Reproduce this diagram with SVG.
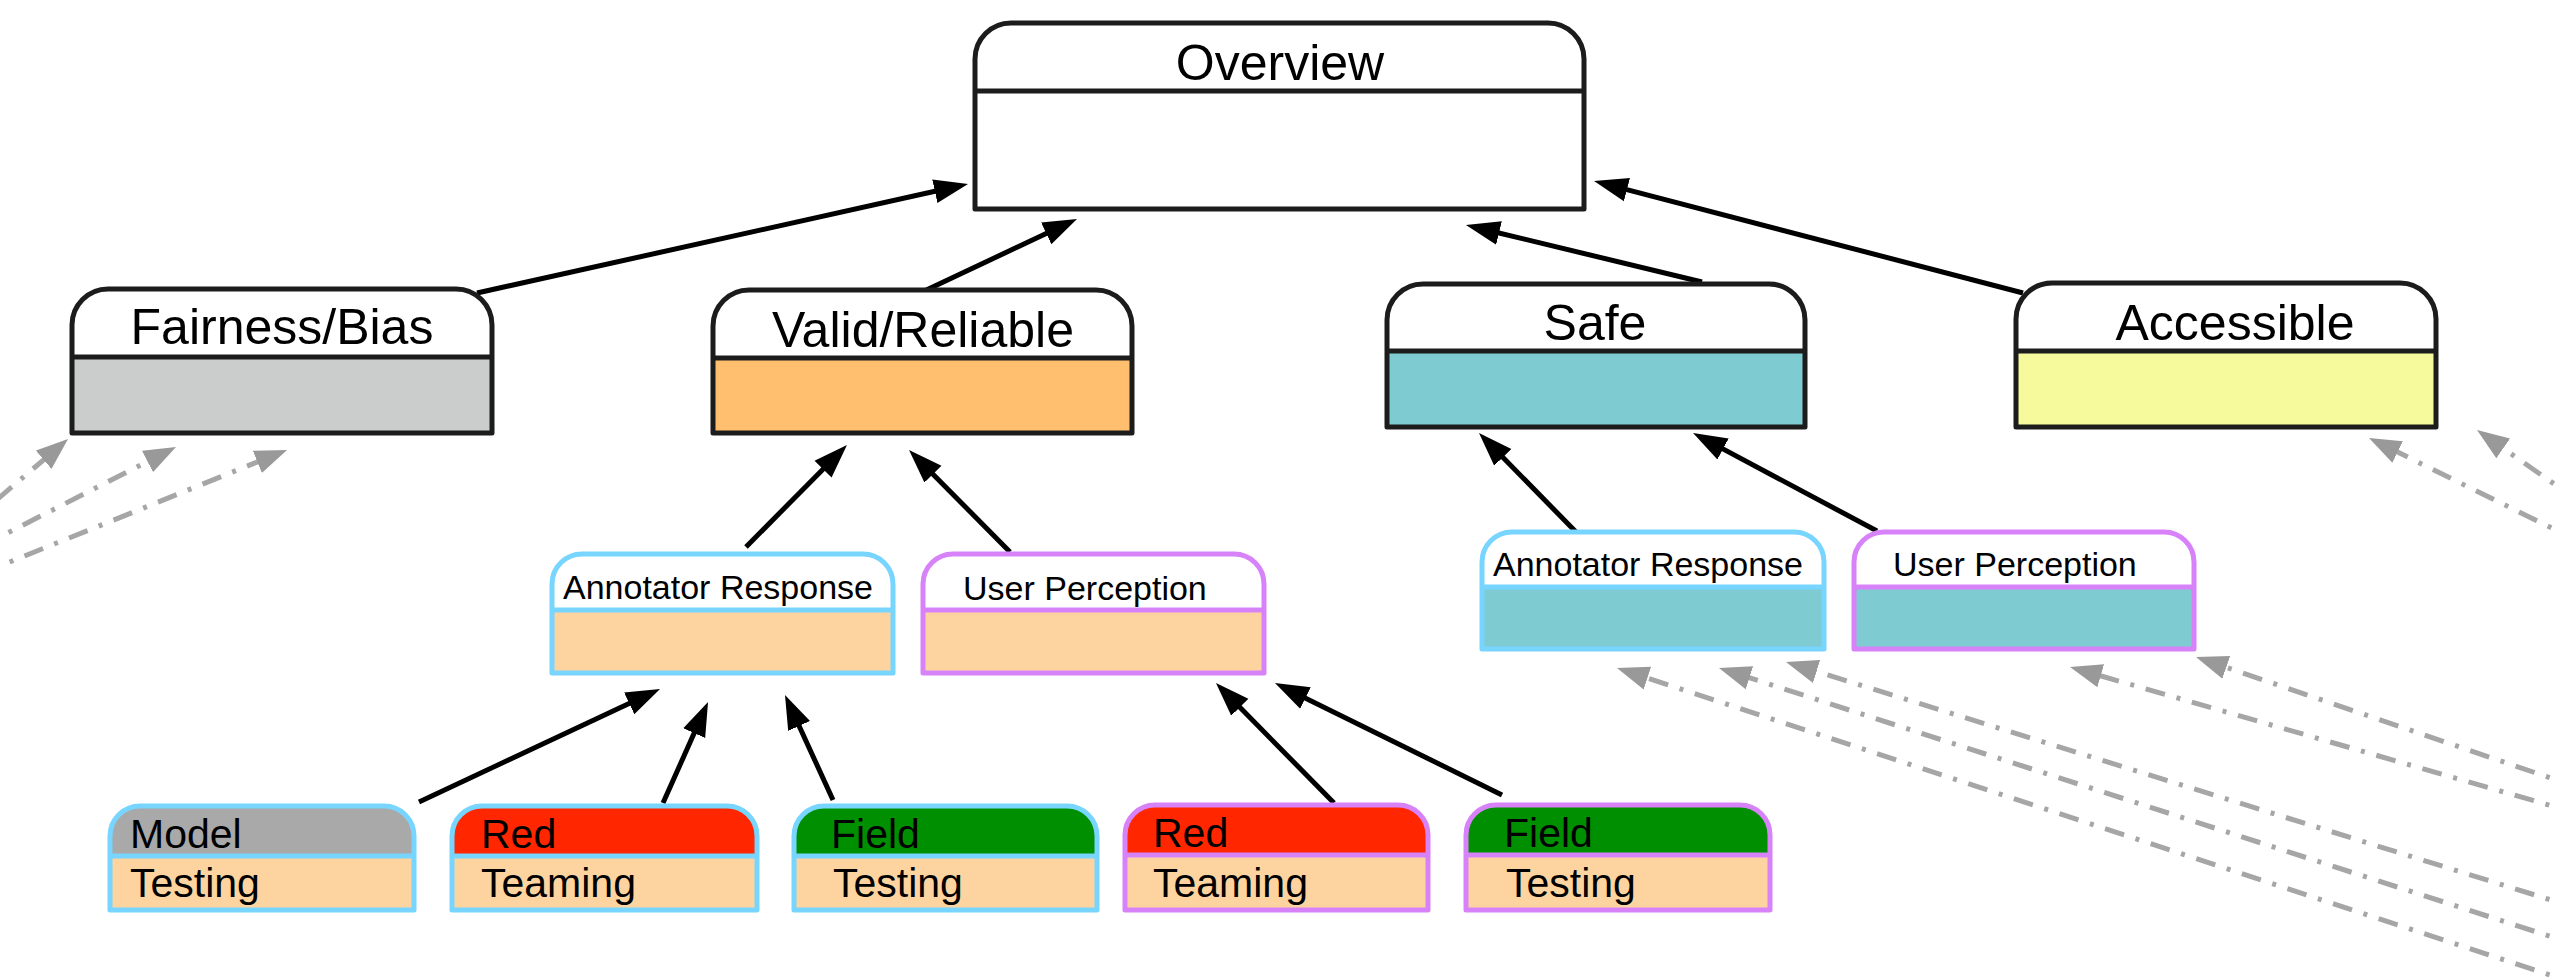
<svg xmlns="http://www.w3.org/2000/svg" width="2560" height="980" viewBox="0 0 2560 980">
<style>
text{font-family:"Liberation Sans",Arial,Helvetica,sans-serif;fill:#000}
.big{font-size:50px;text-anchor:middle}
.mid{font-size:34px}
.sm{font-size:41px}
.ol{fill:none;stroke:#1c1c1c;stroke-width:5;stroke-linejoin:round}
.dv{stroke:#1c1c1c;stroke-width:5}
.olb{fill:none;stroke:#78D5FF;stroke-width:5;stroke-linejoin:round}
.dvb{stroke:#78D5FF;stroke-width:5}
.olp{fill:none;stroke:#D882FA;stroke-width:5;stroke-linejoin:round}
.dvp{stroke:#D882FA;stroke-width:5}
.peach{fill:#FDD49F}
.con{fill:none;stroke:#000;stroke-width:5}
.gcon{fill:none;stroke:#A6A6A6;stroke-width:5;stroke-dasharray:20 12 4 12}
</style>
<defs>
<marker id="ah" markerUnits="userSpaceOnUse" markerWidth="36" markerHeight="26" refX="14" refY="12" orient="auto" viewBox="0 0 36 24">
<path d="M0,0 L34,12 L0,24 z" fill="#000"/>
</marker>
<marker id="gh" markerUnits="userSpaceOnUse" markerWidth="36" markerHeight="26" refX="12" refY="12" orient="auto" viewBox="0 0 36 24">
<path d="M0,0 L32,12 L0,24 z" fill="#999"/>
</marker>
</defs>

<g id="connectors">
<path class="con" marker-end="url(#ah)" d="M477,293 L948.5,188.3"/>
<path class="con" marker-end="url(#ah)" d="M920,293 L1058.9,227.5"/>
<path class="con" marker-end="url(#ah)" d="M1702,282 L1485.4,229.7"/>
<path class="con" marker-end="url(#ah)" d="M2023,293 L1613.4,186.1"/>
<path class="con" marker-end="url(#ah)" d="M746,547 L832.9,459.2"/>
<path class="con" marker-end="url(#ah)" d="M1010,552 L923.1,464.2"/>
<path class="con" marker-end="url(#ah)" d="M1576,532 L1493,447.3"/>
<path class="con" marker-end="url(#ah)" d="M1877,531 L1710.7,442.4"/>
<path class="con" marker-end="url(#ah)" d="M419,802 L641.9,697.5"/>
<path class="con" marker-end="url(#ah)" d="M663,803 L699.9,720.3"/>
<path class="con" marker-end="url(#ah)" d="M833,800 L793.3,713.2"/>
<path class="con" marker-end="url(#ah)" d="M1334,803 L1230,697.3"/>
<path class="con" marker-end="url(#ah)" d="M1502,795 L1292.9,691.9"/>
<path class="gcon" marker-end="url(#gh)" d="M-40,531 L52.8,452"/>
<path class="gcon" marker-end="url(#gh)" d="M-20,547 L158.2,456.1"/>
<path class="gcon" marker-end="url(#gh)" d="M-20,574 L268.5,457.5"/>
<path class="gcon" marker-end="url(#gh)" d="M2580,542 L2386.9,446.8"/>
<path class="gcon" marker-end="url(#gh)" d="M2580,502 L2493.4,441.5"/>
<path class="gcon" marker-end="url(#gh)" d="M2580,985 L1636,674.3"/>
<path class="gcon" marker-end="url(#gh)" d="M2580,946 L1738,674.1"/>
<path class="gcon" marker-end="url(#gh)" d="M2580,909 L1805.1,667.9"/>
<path class="gcon" marker-end="url(#gh)" d="M2580,814 L2089.2,672.5"/>
<path class="gcon" marker-end="url(#gh)" d="M2580,788 L2214.9,663.5"/>
</g>

<g id="overview">
<path d="M975,209 L975,59 A36,36 0 0 1 1011,23 L1548,23 A36,36 0 0 1 1584,59 L1584,209 Z" fill="#fff"/>
<path class="ol" d="M975,209 L975,59 A36,36 0 0 1 1011,23 L1548,23 A36,36 0 0 1 1584,59 L1584,209 Z"/>
<line class="dv" x1="975" y1="91" x2="1584" y2="91"/>
<text class="big" x="1280" y="80">Overview</text>
</g>

<g id="fairness">
<path d="M72,433 L72,325 A36,36 0 0 1 108,289 L456,289 A36,36 0 0 1 492,325 L492,433 Z" fill="#fff"/>
<rect x="72" y="357" width="420" height="76" fill="#CBCDCC"/>
<path class="ol" d="M72,433 L72,325 A36,36 0 0 1 108,289 L456,289 A36,36 0 0 1 492,325 L492,433 Z"/>
<line class="dv" x1="72" y1="357" x2="492" y2="357"/>
<text class="big" x="282" y="344">Fairness/Bias</text>
</g>

<g id="valid">
<path d="M713,433 L713,326 A36,36 0 0 1 749,290 L1096,290 A36,36 0 0 1 1132,326 L1132,433 Z" fill="#fff"/>
<rect x="713" y="358" width="419" height="75" fill="#FFBF6F"/>
<path class="ol" d="M713,433 L713,326 A36,36 0 0 1 749,290 L1096,290 A36,36 0 0 1 1132,326 L1132,433 Z"/>
<line class="dv" x1="713" y1="358" x2="1132" y2="358"/>
<text class="big" x="923" y="347">Valid/Reliable</text>
</g>

<g id="safe">
<path d="M1387,427 L1387,320 A36,36 0 0 1 1423,284 L1769,284 A36,36 0 0 1 1805,320 L1805,427 Z" fill="#fff"/>
<rect x="1387" y="351" width="418" height="76" fill="#7FCBD2"/>
<path class="ol" d="M1387,427 L1387,320 A36,36 0 0 1 1423,284 L1769,284 A36,36 0 0 1 1805,320 L1805,427 Z"/>
<line class="dv" x1="1387" y1="351" x2="1805" y2="351"/>
<text class="big" x="1595" y="340">Safe</text>
</g>

<g id="accessible">
<path d="M2016,427 L2016,319 A36,36 0 0 1 2052,283 L2400,283 A36,36 0 0 1 2436,319 L2436,427 Z" fill="#fff"/>
<rect x="2016" y="351" width="420" height="76" fill="#F6FA9D"/>
<path class="ol" d="M2016,427 L2016,319 A36,36 0 0 1 2052,283 L2400,283 A36,36 0 0 1 2436,319 L2436,427 Z"/>
<line class="dv" x1="2016" y1="351" x2="2436" y2="351"/>
<text class="big" x="2235" y="340">Accessible</text>
</g>

<g id="annotator-response-1">
<path d="M552,673 L552,584 A30,30 0 0 1 582,554 L863,554 A30,30 0 0 1 893,584 L893,673 Z" fill="#fff"/>
<rect class="peach" x="552" y="610" width="341" height="63"/>
<path class="olb" d="M552,673 L552,584 A30,30 0 0 1 582,554 L863,554 A30,30 0 0 1 893,584 L893,673 Z"/>
<line class="dvb" x1="552" y1="610" x2="893" y2="610"/>
<text class="mid" x="563" y="599">Annotator Response</text>
</g>

<g id="user-perception-1">
<path d="M923,673 L923,584 A30,30 0 0 1 953,554 L1234,554 A30,30 0 0 1 1264,584 L1264,673 Z" fill="#fff"/>
<rect class="peach" x="923" y="610" width="341" height="63"/>
<path class="olp" d="M923,673 L923,584 A30,30 0 0 1 953,554 L1234,554 A30,30 0 0 1 1264,584 L1264,673 Z"/>
<line class="dvp" x1="923" y1="610" x2="1264" y2="610"/>
<text class="mid" x="963" y="600">User Perception</text>
</g>

<g id="annotator-response-2">
<path d="M1482,649 L1482,562 A30,30 0 0 1 1512,532 L1794,532 A30,30 0 0 1 1824,562 L1824,649 Z" fill="#fff"/>
<rect x="1482" y="587" width="342" height="62" fill="#7FCBD2"/>
<path class="olb" d="M1482,649 L1482,562 A30,30 0 0 1 1512,532 L1794,532 A30,30 0 0 1 1824,562 L1824,649 Z"/>
<line class="dvb" x1="1482" y1="587" x2="1824" y2="587"/>
<text class="mid" x="1493" y="576">Annotator Response</text>
</g>

<g id="user-perception-2">
<path d="M1854,649 L1854,562 A30,30 0 0 1 1884,532 L2164,532 A30,30 0 0 1 2194,562 L2194,649 Z" fill="#fff"/>
<rect x="1854" y="587" width="340" height="62" fill="#7FCBD2"/>
<path class="olp" d="M1854,649 L1854,562 A30,30 0 0 1 1884,532 L2164,532 A30,30 0 0 1 2194,562 L2194,649 Z"/>
<line class="dvp" x1="1854" y1="587" x2="2194" y2="587"/>
<text class="mid" x="1893" y="576">User Perception</text>
</g>

<g id="model-testing">
<path d="M110,910 L110,836 A30,30 0 0 1 140,806 L384,806 A30,30 0 0 1 414,836 L414,910 Z" fill="#A9A9A9"/>
<rect class="peach" x="110" y="856" width="304" height="54"/>
<path class="olb" d="M110,910 L110,836 A30,30 0 0 1 140,806 L384,806 A30,30 0 0 1 414,836 L414,910 Z"/>
<line class="dvb" x1="110" y1="856" x2="414" y2="856"/>
<text class="sm" x="130" y="848">Model</text>
<text class="sm" x="130" y="897">Testing</text>
</g>

<g id="red-teaming-1">
<path d="M452,910 L452,836 A30,30 0 0 1 482,806 L727,806 A30,30 0 0 1 757,836 L757,910 Z" fill="#FF2600"/>
<rect class="peach" x="452" y="856" width="305" height="54"/>
<path class="olb" d="M452,910 L452,836 A30,30 0 0 1 482,806 L727,806 A30,30 0 0 1 757,836 L757,910 Z"/>
<line class="dvb" x1="452" y1="856" x2="757" y2="856"/>
<text class="sm" x="481" y="848">Red</text>
<text class="sm" x="481" y="897">Teaming</text>
</g>

<g id="field-testing-1">
<path d="M794,910 L794,836 A30,30 0 0 1 824,806 L1067,806 A30,30 0 0 1 1097,836 L1097,910 Z" fill="#008F00"/>
<rect class="peach" x="794" y="856" width="303" height="54"/>
<path class="olb" d="M794,910 L794,836 A30,30 0 0 1 824,806 L1067,806 A30,30 0 0 1 1097,836 L1097,910 Z"/>
<line class="dvb" x1="794" y1="856" x2="1097" y2="856"/>
<text class="sm" x="831" y="848">Field</text>
<text class="sm" x="833" y="897">Testing</text>
</g>

<g id="red-teaming-2">
<path d="M1125,910 L1125,835 A30,30 0 0 1 1155,805 L1398,805 A30,30 0 0 1 1428,835 L1428,910 Z" fill="#FF2600"/>
<rect class="peach" x="1125" y="855" width="303" height="55"/>
<path class="olp" d="M1125,910 L1125,835 A30,30 0 0 1 1155,805 L1398,805 A30,30 0 0 1 1428,835 L1428,910 Z"/>
<line class="dvp" x1="1125" y1="855" x2="1428" y2="855"/>
<text class="sm" x="1153" y="847">Red</text>
<text class="sm" x="1153" y="897">Teaming</text>
</g>

<g id="field-testing-2">
<path d="M1466,910 L1466,835 A30,30 0 0 1 1496,805 L1740,805 A30,30 0 0 1 1770,835 L1770,910 Z" fill="#008F00"/>
<rect class="peach" x="1466" y="855" width="304" height="55"/>
<path class="olp" d="M1466,910 L1466,835 A30,30 0 0 1 1496,805 L1740,805 A30,30 0 0 1 1770,835 L1770,910 Z"/>
<line class="dvp" x1="1466" y1="855" x2="1770" y2="855"/>
<text class="sm" x="1504" y="847">Field</text>
<text class="sm" x="1506" y="897">Testing</text>
</g>
</svg>
